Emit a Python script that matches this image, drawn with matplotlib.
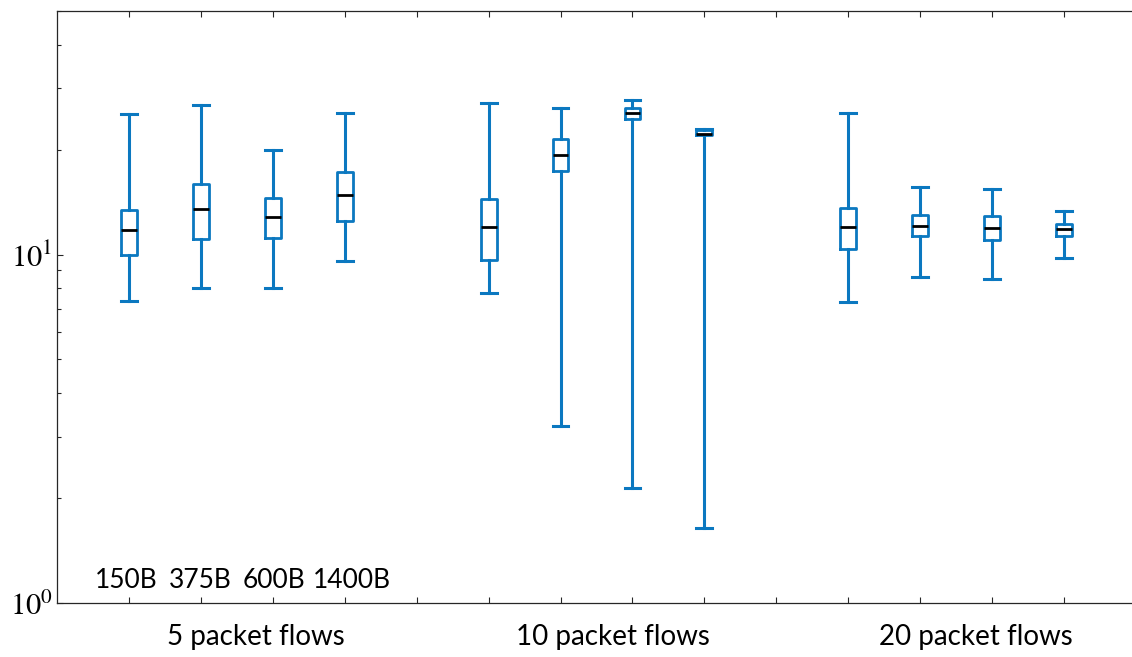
import matplotlib
matplotlib.use("Agg")
import matplotlib.pyplot as plt
from matplotlib.ticker import LogLocator, NullFormatter, FuncFormatter
import numpy as np

plt.rcParams['mathtext.fontset'] = 'stix'

sizes = ['150B', '375B', '600B', '1400B']
groups = ['5 packet flows', '10 packet flows', '20 packet flows']
positions = [1, 2, 3, 4, 6, 7, 8, 9, 11, 12, 13, 14]

# one value per box
whislo = [7.36, 8.0, 8.0, 9.59, 7.75, 3.22, 2.14, 1.64, 7.31, 8.61, 8.51, 9.74]
q1 = [9.95, 11.06, 11.16, 12.5, 9.67, 17.4, 24.4, 22.0, 10.36, 11.3, 11.0, 11.3]
med = [11.74, 13.5, 12.8, 14.8, 12.0, 19.3, 25.5, 22.2, 12.0, 12.1, 11.95, 11.84]
q3 = [13.4, 15.9, 14.5, 17.2, 14.4, 21.4, 26.3, 22.7, 13.6, 12.96, 12.9, 12.27]
whishi = [25.2, 26.8, 19.9, 25.5, 27.1, 26.3, 27.7, 22.9, 25.5, 15.6, 15.4, 13.3]

stats = []
for i in range(len(positions)):
    stats.append(dict(whislo=whislo[i], q1=q1[i], med=med[i], q3=q3[i],
                      whishi=whishi[i], fliers=[]))

blue = '#0B78C0'
fig = plt.figure(figsize=(11.32, 6.57), dpi=100)
ax = fig.add_axes([57 / 1132, 1 - 603.3 / 657, 1079 / 1132, 592.6 / 657])

ax.bxp(stats, positions=positions, widths=0.22, capwidths=0.22, showfliers=False,
       boxprops=dict(color=blue, linewidth=2.0),
       whiskerprops=dict(color=blue, linewidth=2.2),
       capprops=dict(color=blue, linewidth=2.2),
       medianprops=dict(color='black', linewidth=2.0))

ax.set_yscale('log')
ax.set_ylim(1, 50)
ax.set_xlim(0, 15)
ax.yaxis.set_major_locator(LogLocator(base=10, numticks=5))
ax.yaxis.set_major_formatter(FuncFormatter(lambda v, p: r'$10^{%d}$' % round(np.log10(v))))
ax.yaxis.set_minor_locator(LogLocator(base=10, subs=range(2, 10), numticks=20))
ax.yaxis.set_minor_formatter(NullFormatter())
ax.set_xticks(range(1, 15))
ax.set_xticklabels([])
ax.tick_params(axis='both', which='both', direction='in', colors='#262626',
               top=True, right=False, width=0.8)
ax.tick_params(axis='both', which='major', length=4, labelsize=22, labelcolor='black', pad=3)
ax.tick_params(axis='y', which='minor', length=3)
for s in ax.spines.values():
    s.set_color('#262626')
    s.set_linewidth(0.9)

# the size labels sit slightly off their boxes in the original
nudge = [-0.04, -0.01, 0.02, 0.10]
for i, lab in enumerate(sizes):
    ax.text(positions[i] + nudge[i], 0.039, lab, transform=ax.get_xaxis_transform(),
            ha='center', va='center', fontsize=19, family='Lato')

for g, xc in zip(groups, [2.77, 7.73, 12.78]):
    ax.text(xc, -0.057, g, transform=ax.get_xaxis_transform(),
            ha='center', va='center', fontsize=20, family='Lato')

fig.savefig('out.png', dpi=100)
